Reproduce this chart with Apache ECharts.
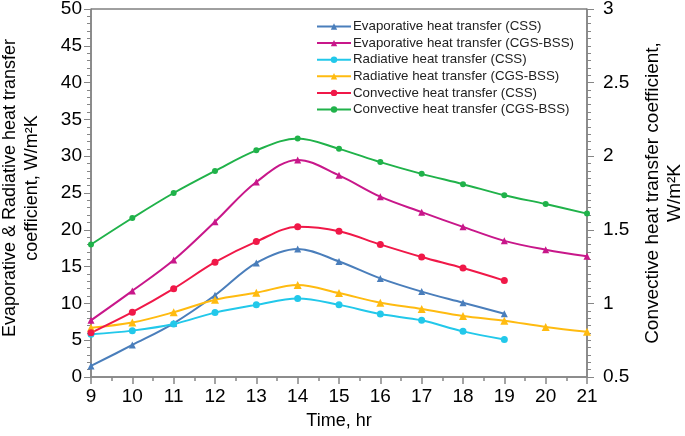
<!DOCTYPE html>
<html><head><meta charset="utf-8">
<script src="https://cdn.jsdelivr.net/npm/echarts@6/dist/echarts.min.js"></script>
<style>html,body{margin:0;padding:0;background:#fff}#c{width:685px;height:436px}</style>
</head><body><div id="c"></div>
<script>
const hoursFull = [9,10,11,12,13,14,15,16,17,18,19,20,21];
const hoursCSS = [9,10,11,12,13,14,15,16,17,18,19];
const evapCSS = [1.5,4.35,7.3,11.1,15.5,17.4,15.7,13.4,11.6,10.1,8.6];
const evapCGS = [7.7,11.7,15.9,21.1,26.5,29.5,27.4,24.5,22.4,20.4,18.5,17.3,16.4];
const radCSS = [5.8,6.3,7.2,8.75,9.8,10.65,9.8,8.55,7.7,6.2,5.1];
const radCGS = [6.7,7.4,8.8,10.5,11.45,12.5,11.4,10.1,9.25,8.3,7.65,6.8,6.15];
const convCSS = [0.80,0.94,1.10,1.28,1.42,1.52,1.49,1.40,1.315,1.24,1.155];
const convCGS = [1.40,1.58,1.75,1.90,2.04,2.12,2.05,1.96,1.88,1.81,1.735,1.675,1.61];
const seriesNames = ['Evaporative heat transfer (CSS)','Evaporative heat transfer (CGS-BSS)','Radiative heat transfer (CSS)','Radiative heat transfer (CGS-BSS)','Convective heat transfer (CSS)','Convective heat transfer (CGS-BSS)'];
const xTicks = {min:9,max:21,interval:1};
const yLeftTicks = {min:0,max:50,interval:5};
const yRightTicks = {min:0.5,max:3,interval:0.5};

const zip = (xs, ys) => ys.map((v,i)=>[xs[i],v]);
const font = 'Liberation Sans, Arial, sans-serif';
function mk(name, xs, ys, color, symbol, size, yi){
  return {name, type:'line', data:zip(xs,ys), yAxisIndex:yi, smooth:0.35,
    symbol, symbolSize:size, showSymbol:true,
    lineStyle:{color, width:2}, itemStyle:{color},
    emphasis:{disabled:true}};
}
const chart = echarts.init(document.getElementById('c'), null, {renderer:'canvas'});
chart.setOption({
  animation:false,
  backgroundColor:'#fff',
  textStyle:{fontFamily:font},
  grid:{left:91,right:98,top:9,bottom:59,show:true,borderColor:'#404040',borderWidth:1,
    containLabel:false,outerBoundsMode:'none'},
  legend:{orient:'vertical',left:311,top:15,itemGap:3.6,itemWidth:34,itemHeight:8,
    textStyle:{fontSize:13.3,color:'#222',fontFamily:font,padding:[0,0,0,-3]},data:seriesNames},
  xAxis:{type:'value',min:xTicks.min,max:xTicks.max,interval:xTicks.interval,
    name:'Time, hr',nameLocation:'middle',nameGap:35,
    nameTextStyle:{fontSize:18,color:'#000',fontFamily:font},
    axisLine:{lineStyle:{color:'#868686',width:1.5}},
    axisTick:{show:true,length:7,lineStyle:{color:'#868686',width:1.5}},
    minorTick:{show:true,splitNumber:2,length:4,lineStyle:{color:'#868686',width:1.5}},
    splitLine:{show:false},
    axisLabel:{fontSize:19,color:'#000',margin:10,fontFamily:font}},
  yAxis:[
    {type:'value',min:yLeftTicks.min,max:yLeftTicks.max,interval:yLeftTicks.interval,
     name:'Evaporative & Radiative heat transfer\ncoefficient, W/m²K',nameLocation:'middle',nameGap:48,
     nameTextStyle:{fontSize:18,color:'#000',lineHeight:22,fontFamily:font,padding:[0,0,0,10]},
     axisLine:{show:true,lineStyle:{color:'#868686',width:1.5}},
     axisTick:{show:true,length:7,lineStyle:{color:'#868686'}},
     minorTick:{show:true,splitNumber:5,length:4,lineStyle:{color:'#868686'}},
     splitLine:{show:false},
     axisLabel:{fontSize:19,color:'#000',margin:9,fontFamily:font}},
    {type:'value',min:yRightTicks.min,max:yRightTicks.max,interval:yRightTicks.interval,position:'right',
     name:'Convective heat transfer coefficient,\nW/m²K',nameLocation:'middle',nameGap:55,nameRotate:90,
     nameTextStyle:{fontSize:19,color:'#000',lineHeight:22,fontFamily:font},
     axisLine:{show:true,lineStyle:{color:'#868686',width:1.5}},
     axisTick:{show:true,length:7,lineStyle:{color:'#868686'}},
     minorTick:{show:true,splitNumber:10,length:4,lineStyle:{color:'#868686'}},
     splitLine:{show:false},
     axisLabel:{fontSize:19,color:'#000',margin:16,fontFamily:font}}
  ],
  series:[
    mk(seriesNames[0],hoursCSS,evapCSS,'#4a7ebb','triangle',7,0),
    mk(seriesNames[1],hoursFull,evapCGS,'#c8178a','triangle',7,0),
    mk(seriesNames[2],hoursCSS,radCSS,'#22c8ea','circle',7,0),
    mk(seriesNames[3],hoursFull,radCGS,'#ffbb10','triangle',8,0),
    mk(seriesNames[4],hoursCSS,convCSS,'#f01848','circle',7,1),
    mk(seriesNames[5],hoursFull,convCGS,'#20b24a','circle',6,1)
  ]
});
</script></body></html>
